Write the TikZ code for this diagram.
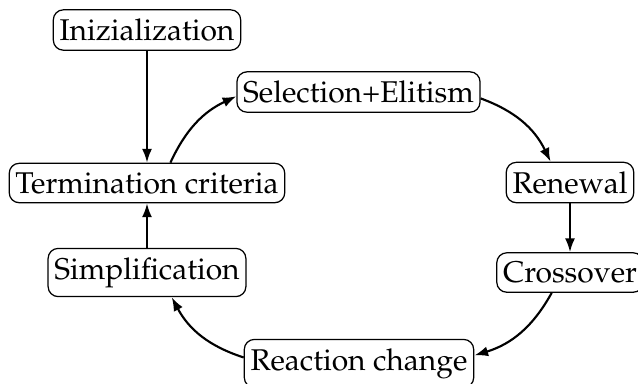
\documentclass[tikz,border=0pt]{standalone}
\usepackage[T1]{fontenc}
\usepackage{mathpazo}
\usetikzlibrary{arrows.meta}
\begin{document}
\begin{tikzpicture}[x=0.4pt,y=0.4pt,
  stepbox/.style={draw, rounded corners=4pt, line width=0.5pt,
    inner xsep=2.5pt, inner ysep=3.6pt, font=\fontsize{12}{14}\selectfont},
  flow/.style={-{Latex[length=5.5pt,width=4pt]}, line width=0.85pt}]
\useasboundingbox (0,0) rectangle (638,383);
% the steps of the loop
\node[stepbox] (init)  at (147,353)   {Inizialization};
\node[stepbox] (sel)   at (358.5,291) {Selection+Elitism};
\node[stepbox] (term)  at (147,200)   {Termination criteria};
\node[stepbox] (ren)   at (570,200.5) {Renewal};
\node[stepbox] (simp)  at (147,110.5) {Simplification};
\node[stepbox] (cross) at (570,110.5) {Crossover};
\node[stepbox] (react) at (359,19.5)  {Reaction change};
% connectors
\draw[flow] (init) -- (term);
\draw[flow] (term.41) to[bend left=20] (sel.182);
\draw[flow] (sel.357) to[bend left=22] (ren.133);
\draw[flow] (ren) -- (cross);
\draw[flow] (cross.228) to[bend left=22] (react.4);
\draw[flow] (react.177) to[bend left=22] (simp.315);
\draw[flow] (simp) -- (term);
\end{tikzpicture}
\end{document}
